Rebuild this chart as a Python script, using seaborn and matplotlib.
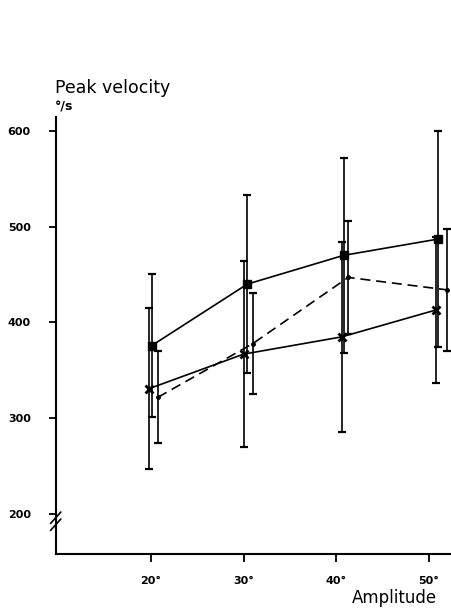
import numpy as np
import pandas as pd
import matplotlib
matplotlib.use("Agg")
import matplotlib.pyplot as plt
import seaborn as sns

# ---- data ----
amplitude_ticks = [20, 30, 40, 50]
tick_labels = ["20°", "30°", "40°", "50°"]

# plotted amplitude positions (groups are slightly staggered in the original)
x_square = [20.1, 30.4, 40.8, 51.0]
x_cross = [19.8, 30.0, 40.6, 50.75]
x_dash = [20.75, 31.0, 41.3, 52.0]

mean_square = [376, 440, 470, 487]
sd_square = [75, 93, 102, 113]

mean_cross = [331, 367, 385, 413]
sd_cross = [84, 97, 99, 76]

mean_dash = [322, 378, 447, 434]
sd_dash = [48, 53, 59, 64]

y_ticks = [200, 300, 400, 500, 600]

# ---- figure ----
sns.set_style("ticks")
plt.rcParams["font.family"] = ["DejaVu Sans"]
for k in ["text.color", "axes.labelcolor", "xtick.color", "ytick.color", "axes.edgecolor"]:
    plt.rcParams[k] = "black"

fig = plt.figure(figsize=(4.51, 6.08), dpi=100)
ax = fig.add_axes([0.1235, 0.0888, 0.8765, 0.7188])

df = pd.concat([
    pd.DataFrame({"x": x_square, "y": mean_square, "g": "square"}),
    pd.DataFrame({"x": x_cross, "y": mean_cross, "g": "cross"}),
    pd.DataFrame({"x": x_dash, "y": mean_dash, "g": "dash"}),
])

styles = {
    "square": dict(marker="s", ls="-", ms=5.5, mew=1),
    "cross": dict(marker="x", ls="-", ms=6, mew=2),
    "dash": dict(marker="o", ls=(0, (6, 3.5)), ms=2.5, mew=1),
}
for g, st in styles.items():
    sub = df[df.g == g]
    sns.lineplot(data=sub, x="x", y="y", ax=ax, color="black", lw=1.2,
                 linestyle=st["ls"], marker=st["marker"], markersize=st["ms"],
                 markeredgewidth=st["mew"], markeredgecolor="black",
                 sort=False, legend=False, zorder=3)

for xs, m, s in [(x_square, mean_square, sd_square),
                 (x_cross, mean_cross, sd_cross),
                 (x_dash, mean_dash, sd_dash)]:
    ax.errorbar(xs, m, yerr=s, fmt="none", ecolor="black", elinewidth=1.2,
                capsize=3, capthick=1.6, zorder=2)

ax.set_xlim(9.72, 52.4)
ax.set_ylim(158.6, 614.3)

ax.set_xticks(amplitude_ticks)
ax.set_xticklabels(tick_labels, fontsize=8, fontweight="bold")
ax.set_yticks(y_ticks)
ax.set_yticklabels([str(v) for v in y_ticks], fontsize=8, fontweight="bold")
ax.tick_params(axis="y", direction="out", length=5, width=1.3, pad=13)
ax.tick_params(axis="x", direction="out", length=6, width=1.3, pad=10)

for side in ["top", "right"]:
    ax.spines[side].set_visible(False)
for side in ["left", "bottom"]:
    ax.spines[side].set_linewidth(1.5)

ax.set_xlabel("")
ax.set_ylabel("")

# axis break marks on the y axis
for dy in [0.0, 0.016]:
    ax.plot([-0.013, 0.013], [0.054 + dy, 0.080 + dy], transform=ax.transAxes,
            color="black", lw=1.2, clip_on=False)

fig.text(0.122, 0.855, "Peak velocity", fontsize=12.5, ha="left", va="center")
fig.text(0.122, 0.824, "°/s", fontsize=9, fontweight="bold", ha="left", va="center")
fig.text(0.97, 0.017, "Amplitude", fontsize=12, ha="right", va="center")

fig.savefig("out.png", dpi=100)
